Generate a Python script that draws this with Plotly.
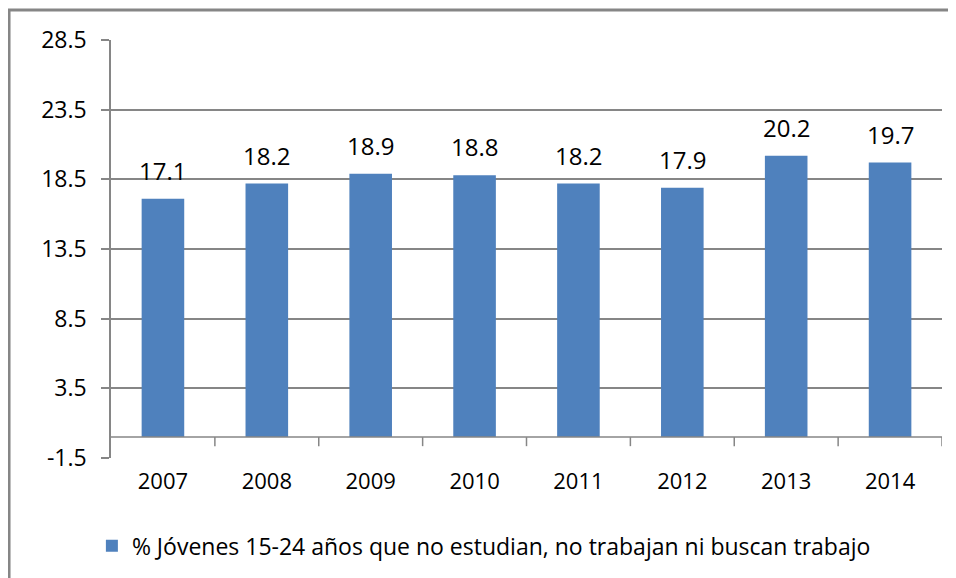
import plotly.graph_objects as go

years = ["2007", "2008", "2009", "2010", "2011", "2012", "2013", "2014"]
values = [17.1, 18.2, 18.9, 18.8, 18.2, 17.9, 20.2, 19.7]
series_name = "% Jóvenes 15-24 años que no estudian, no trabajan ni buscan trabajo"
y_ticks = [-1.5, 3.5, 8.5, 13.5, 18.5, 23.5, 28.5]

BAR = "#4F81BD"
GRID = "#868686"
FONT = "Open Sans"
FS = 22

fig = go.Figure()
fig.add_trace(go.Bar(
    x=years, y=values, name=series_name, marker_color=BAR,
    marker_line_width=0, width=0.41, showlegend=True,
))

for i, v in enumerate(values):
    fig.add_annotation(x=i, y=v, text=f"{v:.1f}", showarrow=False,
                       yanchor="bottom", yshift=10,
                       font=dict(family=FONT, size=24, color="#000000"))

shapes = []
# zero baseline
shapes.append(dict(type="line", xref="paper", yref="y", x0=0, x1=1, y0=0, y1=0,
                   line=dict(color=GRID, width=1.5)))
# category boundary ticks hanging from the baseline
for i in range(len(years)):
    shapes.append(dict(type="line", xref="x", yref="y", x0=i + 0.5, x1=i + 0.5,
                       y0=0, y1=-0.65, line=dict(color=GRID, width=1.5)))
# outer chart frame
shapes.append(dict(type="rect", xref="paper", yref="paper",
                   x0=-0.1227, x1=1.2, y0=-0.5, y1=1.0718,
                   line=dict(color=GRID, width=3), fillcolor="rgba(0,0,0,0)",
                   layer="below"))

# the page body adds an 8px offset, so margins are shifted by 8px
fig.update_layout(
    width=956, height=578,
    margin=dict(l=103, r=22, t=32, b=128),
    paper_bgcolor="white", plot_bgcolor="white",
    font=dict(family=FONT, size=FS, color="#000000"),
    bargap=0.59,
    shapes=shapes,
    showlegend=True,
    legend=dict(orientation="h", x=-0.023, xanchor="left", y=-0.21, yanchor="middle",
                font=dict(family=FONT, size=23, color="#000000"),
                itemwidth=30),
    xaxis=dict(type="category", showgrid=False, showline=False, ticks="",
               tickfont=dict(size=FS), ticklabelstandoff=8,
               range=[-0.5, len(years) - 0.5]),
    yaxis=dict(range=[-1.5, 28.5], tickvals=y_ticks, ticktext=[f"{t:.1f}" for t in y_ticks],
               showgrid=True, gridcolor=GRID, gridwidth=1.5,
               showline=True, linecolor=GRID, linewidth=1.5,
               ticks="outside", ticklen=8, tickcolor=GRID, tickwidth=1.5,
               ticklabelstandoff=10,
               zeroline=False, tickfont=dict(size=23)),
)

fig.write_html("out.html")
